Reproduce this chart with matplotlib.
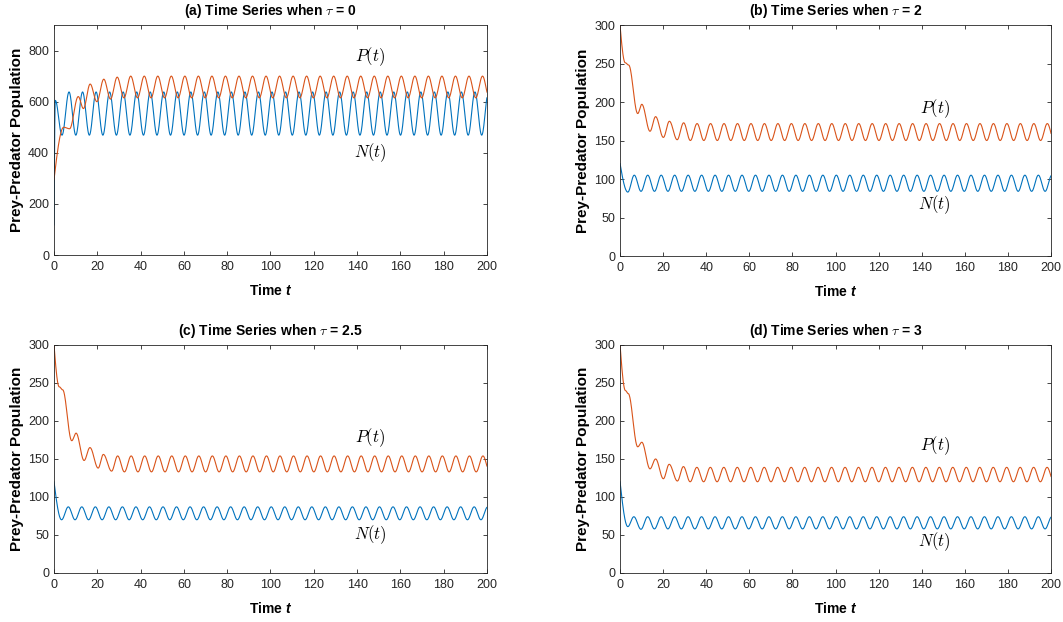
import numpy as np
import matplotlib
matplotlib.use("Agg")
import matplotlib.pyplot as plt

plt.rcParams['font.family'] = ['Liberation Sans', 'DejaVu Sans']
plt.rcParams['mathtext.fontset'] = 'cm'
plt.rcParams['mathtext.it'] = 'Liberation Sans:italic:bold'
plt.rcParams['mathtext.rm'] = 'Liberation Sans:bold'

# turning points (time, value) of the transient,
# then the level of peaks / troughs once the cycle has settled
period = 6.25
t_end = 200

taus = ['0', '2', '2.5', '3']
letters = ['a', 'b', 'c', 'd']

# (a) tau = 0
n_t_a = [0, 0.6, 3.7, 6.95]
n_v_a = [118, 605, 469, 638]
n_hi_a, n_lo_a = 638, 469
p_t_a = [0, 4.5, 7.2, 11.2, 13.6, 16.7, 19.8, 23.0, 26.1, 29.2]
p_v_a = [295, 500, 494, 620, 573, 669, 600, 688, 610, 696]
p_hi_a, p_lo_a = 700, 615

# (b) tau = 2
n_t_b = [0, 3.6, 6.6]
n_v_b = [120, 83, 105]
n_hi_b, n_lo_b = 105, 84
p_t_b = [0, 2.4, 4.0, 8.2, 10.1, 13.9, 16.5, 20.1, 22.9, 26.5, 29.5]
p_v_b = [299, 251, 248, 185, 197, 162, 181, 154, 175, 151, 173]
p_hi_b, p_lo_b = 172, 150

# (c) tau = 2.5
n_t_c = [0, 3.5, 6.6]
n_v_c = [120, 70, 87]
n_hi_c, n_lo_c = 87, 70
p_t_c = [0, 2.4, 4.0, 8.2, 10.2, 13.9, 16.6, 20.4, 22.8, 26.6, 29.4]
p_v_c = [300, 245, 241, 174, 184, 148, 165, 138, 156, 134, 154]
p_hi_c, p_lo_c = 154, 133

# (d) tau = 3
n_t_d = [0, 3.6, 6.4, 9.7]
n_v_d = [120, 61, 74, 57.5]
n_hi_d, n_lo_d = 74, 58
p_t_d = [0, 2.5, 3.8, 8.2, 10.1, 13.9, 16.5, 20.1, 22.8, 26.6, 29.4]
p_v_d = [300, 240, 236, 166, 172, 137, 150, 124, 143, 121, 140]
p_hi_d, p_lo_d = 139, 120

n_data = [(n_t_a, n_v_a, n_hi_a, n_lo_a), (n_t_b, n_v_b, n_hi_b, n_lo_b),
          (n_t_c, n_v_c, n_hi_c, n_lo_c), (n_t_d, n_v_d, n_hi_d, n_lo_d)]
p_data = [(p_t_a, p_v_a, p_hi_a, p_lo_a), (p_t_b, p_v_b, p_hi_b, p_lo_b),
          (p_t_c, p_v_c, p_hi_c, p_lo_c), (p_t_d, p_v_d, p_hi_d, p_lo_d)]

ylims = [900, 300, 300, 300]
yticks = [range(0, 801, 200), range(0, 301, 50), range(0, 301, 50), range(0, 301, 50)]
# label anchors (time, value)
p_label = [(146, 775), (146, 191), (146, 178), (146, 167)]
n_label = [(146, 399), (146, 67), (146, 51), (146, 41)]

positions = [[0.0508, 0.590, 0.4073, 0.3698],
             [0.5833, 0.5884, 0.4055, 0.3714],
             [0.0508, 0.0788, 0.4073, 0.3666],
             [0.5833, 0.0788, 0.4055, 0.3666]]

blue = '#0072BD'
orange = '#D95319'
dark = '#262626'


def build_curve(times, values, hi, lo):
    ts = list(times)
    vs = list(values)
    going_up = vs[-1] < vs[-2]
    while ts[-1] < t_end + period:
        ts.append(ts[-1] + period / 2)
        vs.append(hi if going_up else lo)
        going_up = not going_up
    xs, ys = [], []
    for i in range(len(ts) - 1):
        s = np.linspace(0, 1, 30)
        if i == 0:
            w = np.sin(s * np.pi / 2)
        else:
            w = (1 - np.cos(np.pi * s)) / 2
        xs.append(ts[i] + s * (ts[i + 1] - ts[i]))
        ys.append(vs[i] + w * (vs[i + 1] - vs[i]))
    x = np.concatenate(xs)
    y = np.concatenate(ys)
    keep = x <= t_end
    return x[keep], y[keep]


fig = plt.figure(figsize=(10.63, 6.22), dpi=100)

for i in range(4):
    ax = fig.add_axes(positions[i])
    nx, ny = build_curve(*n_data[i])
    px, py = build_curve(*p_data[i])
    ax.plot(nx, ny, color=blue, lw=0.8)
    ax.plot(px, py, color=orange, lw=0.8)

    ax.set_xlim(0, 200)
    ax.set_ylim(0, ylims[i])
    ax.set_xticks(range(0, 201, 20))
    ax.set_yticks(list(yticks[i]))
    ax.tick_params(direction='in', top=True, right=True, length=3,
                   width=0.6, labelsize=9, colors=dark)
    ax.tick_params(axis='x', pad=4.5)
    ax.tick_params(axis='y', pad=3.5)
    for sp in ax.spines.values():
        sp.set_color(dark)
        sp.set_linewidth(0.6)

    ax.set_title(f"({letters[i]}) Time Series when $\\tau$ = {taus[i]}",
                 fontsize=10, fontweight='bold', pad=7)
    ax.set_xlabel("Time $t$", fontsize=10, fontweight='bold',
                  math_fontfamily='custom', labelpad=7)
    ax.set_ylabel("Prey-Predator Population", fontsize=11, fontweight='bold',
                  labelpad=3)

    ax.text(p_label[i][0], p_label[i][1], "$P(t)$", fontsize=12,
            ha='center', va='center')
    ax.text(n_label[i][0], n_label[i][1], "$N(t)$", fontsize=12,
            ha='center', va='center')

fig.savefig("out.png", dpi=100)
